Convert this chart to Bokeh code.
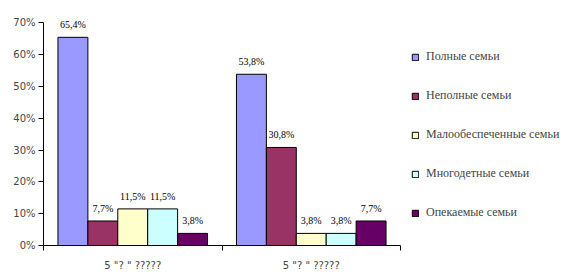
from bokeh.plotting import figure
from bokeh.models import ColumnDataSource, FixedTicker, Legend, LegendItem, Range1d, LabelSet
from bokeh.embed import file_html
from bokeh.resources import INLINE

categories = ['5 "? " ?????', '5 "? " ?????']
series = ["Полные семьи", "Неполные семьи", "Малообеспеченные семьи", "Многодетные семьи", "Опекаемые семьи"]
values = {
    "Полные семьи": [65.4, 53.8],
    "Неполные семьи": [7.7, 30.8],
    "Малообеспеченные семьи": [11.5, 3.8],
    "Многодетные семьи": [11.5, 3.8],
    "Опекаемые семьи": [3.8, 7.7],
}
colors = ["#9999FF", "#993366", "#FFFFCC", "#CCFFFF", "#660066"]
y_ticks = [0, 10, 20, 30, 40, 50, 60, 70]

p = figure(frame_width=357, frame_height=233, output_backend="svg", toolbar_location=None,
           x_range=Range1d(0, 2), y_range=Range1d(0, 73.2),
           min_border_left=43, min_border_right=169, min_border_top=12, min_border_bottom=27)
p.outline_line_color = None
p.xgrid.visible = False
p.ygrid.visible = False

bar_w = 0.1676
items = []
for i, (s, c) in enumerate(zip(series, colors)):
    xs = [g + 0.5 + (i - 2) * bar_w for g in range(len(categories))]
    src = ColumnDataSource(dict(x=xs, top=values[s],
                                lab=[("%.1f" % v).replace(".", ",") + "%" for v in values[s]]))
    r = p.vbar(x="x", top="top", width=bar_w, source=src, fill_color=c, line_color="black", line_width=1)
    items.append(LegendItem(label=s, renderers=[r]))
    p.add_layout(LabelSet(x="x", y="top", text="lab", source=src, text_align="center",
                          text_baseline="bottom", y_offset=7, text_font="DejaVu Sans",
                          text_font_size="10px", text_color="black"))

legend = Legend(items=items, location=(11, 25), padding=0, margin=0,
                border_line_color=None, background_fill_alpha=0,
                glyph_width=8, glyph_height=8, label_height=14, spacing=24,
                label_standoff=7, label_text_font="serif", label_text_font_size="12px")
p.add_layout(legend, "right")

ya = p.yaxis[0]
ya.ticker = FixedTicker(ticks=y_ticks, minor_ticks=[])
ya.major_label_overrides = {t: f"{t}%" for t in y_ticks}
ya.bounds = (0, 70)
ya.major_tick_out = 5
ya.major_tick_in = 0
ya.minor_tick_out = 0
ya.minor_tick_in = 0
ya.major_label_standoff = 3
ya.major_label_text_font = "DejaVu Sans"
ya.major_label_text_font_size = "10px"
ya.axis_line_color = "black"

xa = p.xaxis[0]
xa.ticker = FixedTicker(ticks=[0.5 + g for g in range(len(categories))], minor_ticks=[0, 1, 2])
xa.major_label_overrides = {0.5 + g: c for g, c in enumerate(categories)}
xa.major_tick_out = 0
xa.major_tick_in = 0
xa.minor_tick_out = 5
xa.minor_tick_in = 0
xa.major_label_standoff = 9
xa.major_label_text_font = "DejaVu Sans"
xa.major_label_text_font_size = "10px"
xa.axis_line_color = "black"

open("out.html", "w").write(file_html(p, INLINE))
